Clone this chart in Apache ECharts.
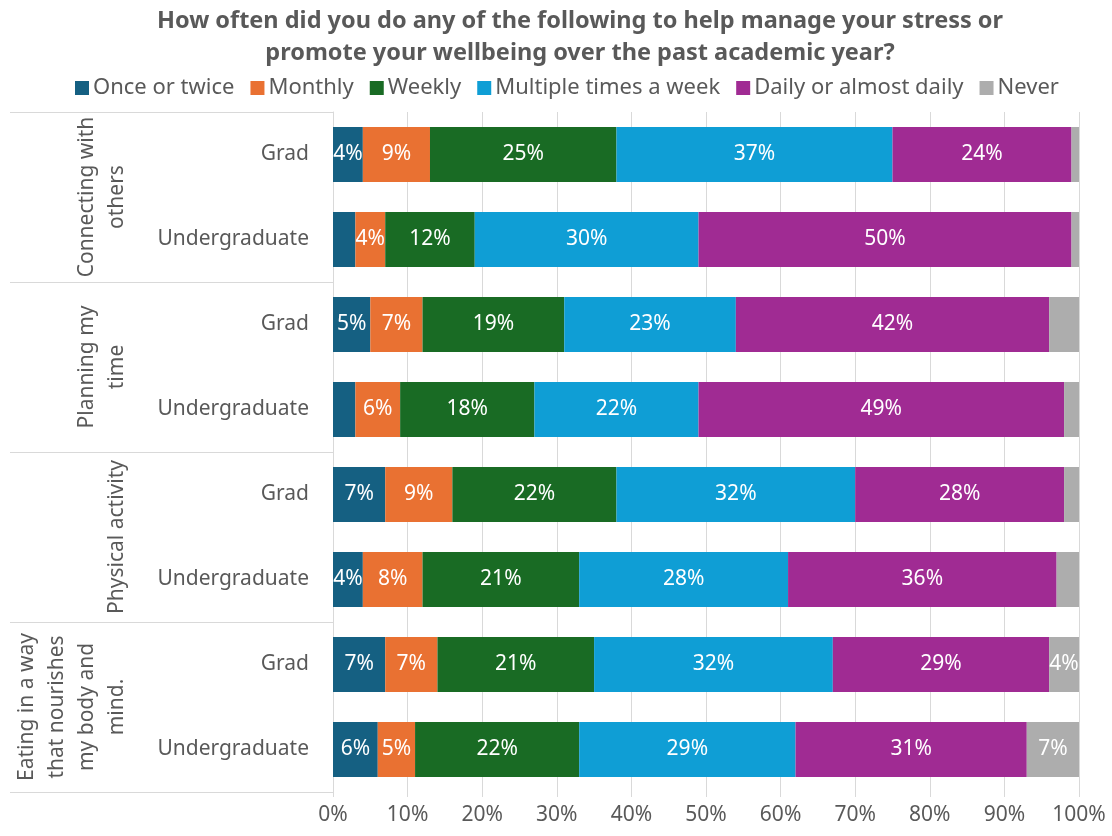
<!DOCTYPE html>
<html>
<head>
<meta charset="utf-8">
<script src="https://cdn.jsdelivr.net/npm/echarts@6/dist/echarts.min.js"></script>
<style>html,body{margin:0;padding:0;background:#fff}#c{width:1112px;height:836px}</style>
</head>
<body>
<div id="c"></div>
<script>
const categories = ['Grad','Undergraduate','Grad','Undergraduate','Grad','Undergraduate','Grad','Undergraduate'];
const groups = ['Connecting with\nothers','Planning my\ntime','Physical activity','Eating in a way\nthat nourishes\nmy body and\nmind.'];
const seriesNames = ['Once or twice','Monthly','Weekly','Multiple times a week','Daily or almost daily','Never'];
const onceOrTwice = [4,3,5,3,7,4,7,6];
const monthly = [9,4,7,6,9,8,7,5];
const weekly = [25,12,19,18,22,21,21,22];
const multipleTimes = [37,30,23,22,32,28,32,29];
const daily = [24,50,42,49,28,36,29,31];
const never = [1,1,4,2,2,3,4,7];
// data labels that are not shown in the original (series index, category index)
const hiddenLabels = [[5,2]];
const xTicks = [0,10,20,30,40,50,60,70,80,90,100];

const colors = ['#156082','#E97132','#196B24','#0F9ED5','#A02B93','#ADADAD'];
const FONT = 'Noto Sans';
const values = [onceOrTwice, monthly, weekly, multipleTimes, daily, never];

const chart = echarts.init(document.getElementById('c'));
chart.setOption({
  animation: false,
  textStyle: {fontFamily: FONT},
  color: colors,
  title: {
    text: 'How often did you do any of the following to help manage your stress or\npromote your wellbeing over the past academic year?',
    left: 575, textAlign: 'center', top: 0,
    textStyle: {fontFamily: FONT, fontSize: 23.5, fontWeight: 'bold', color: '#595959', lineHeight: 32}
  },
  legend: {
    top: 72, left: 70, width: 1100,
    icon: 'rect', itemWidth: 14, itemHeight: 14, itemGap: 16,
    textStyle: {fontFamily: FONT, fontSize: 22, color: '#595959', padding: [0,0,0,-1]},
    data: seriesNames
  },
  grid: {left: 333, right: 33, top: 112, bottom: 44, containLabel: false},
  xAxis: {
    type: 'value', min: xTicks[0], max: xTicks[xTicks.length-1], interval: 10,
    axisLine: {show: false},
    axisTick: {show: true, length: 5, lineStyle: {color: '#d9d9d9'}},
    splitLine: {lineStyle: {color: '#d9d9d9', width: 1}},
    axisLabel: {formatter: '{value}%', fontSize: 21, color: '#595959', margin: 13, fontFamily: FONT}
  },
  yAxis: [
    {
      type: 'category', data: categories, inverse: true,
      axisLine: {show: true, lineStyle: {color: '#d9d9d9'}},
      axisTick: {show: false},
      axisLabel: {fontSize: 21, color: '#595959', margin: 24, fontFamily: FONT}
    },
    {
      type: 'category', data: groups, inverse: true, position: 'left',
      axisLine: {show: false},
      axisTick: {show: true, length: 323, lineStyle: {color: '#d9d9d9'}},
      axisLabel: {rotate: 90, interval: 0, fontSize: 21, lineHeight: 30, color: '#595959', margin: 201, fontFamily: FONT}
    }
  ],
  series: seriesNames.map((n, i) => ({
    name: n, type: 'bar', stack: 'total', yAxisIndex: 0, barWidth: 55,
    data: values[i].map((v, j) => hiddenLabels.some(h => h[0] === i && h[1] === j)
      ? {value: v, label: {show: false}} : v),
    itemStyle: {color: colors[i]},
    label: {
      show: true, position: 'inside', color: '#fff', fontSize: 21, fontFamily: FONT,
      formatter: p => p.value >= 4 ? p.value + '%' : ''
    }
  }))
});
</script>
</body>
</html>
